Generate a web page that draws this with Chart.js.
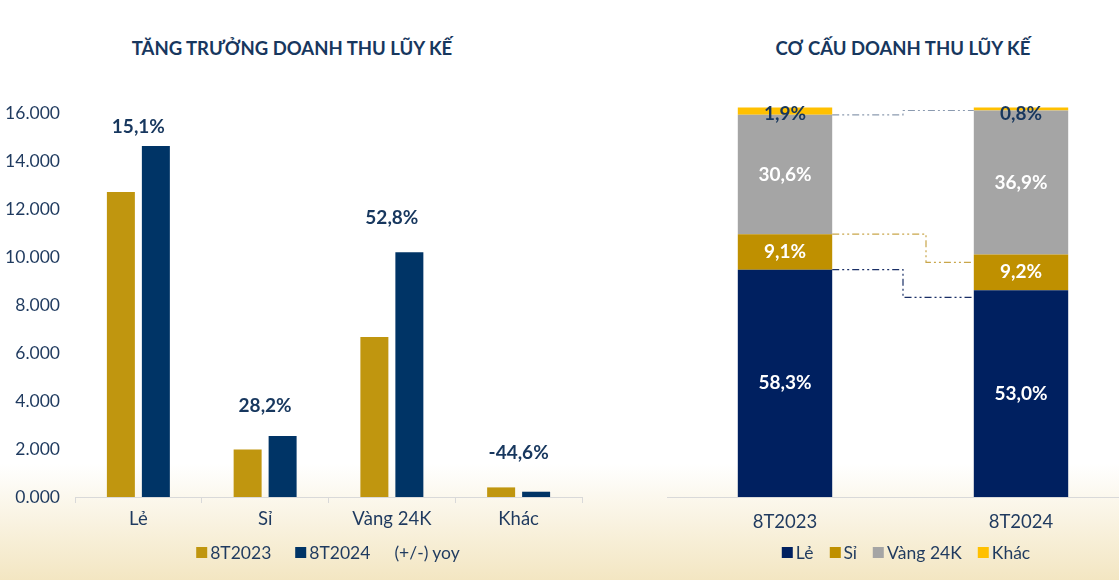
<!DOCTYPE html>
<html lang="vi">
<head>
    <meta charset="UTF-8">
    <title>Doanh thu lũy kế</title>
    <script src="https://cdn.jsdelivr.net/npm/chart.js"></script>
    <style>
        html, body {
            margin: 0;
            padding: 0;
            width: 1119px;
            height: 580px;
            overflow: hidden;
        }
        body {
            position: relative;
            font-family: Lato, "Open Sans", sans-serif;
            background: linear-gradient(to bottom, #ffffff 0%, #ffffff 80%, #f3e6c2 100%);
            color: #1f3a5f;
        }
        canvas {
            position: absolute;
            top: 0;
        }
        #growthChart { left: 0; }
        #mixChart { left: 600px; }
        .title {
            position: absolute;
            top: 37px;
            font-weight: bold;
            font-size: 18.5px;
            color: #17375e;
            white-space: nowrap;
            transform: translateX(-50%);
        }
        .legend {
            position: absolute;
            top: 542px;
            font-size: 17.5px;
            color: #1f3a5f;
            white-space: nowrap;
            transform: translateX(-50%);
            display: flex;
            align-items: center;
        }
        .legend span.box {
            display: inline-block;
            width: 11px;
            height: 11px;
            margin-right: 3px;
        }
        .legend span.item { display: flex; align-items: center; }
        #growthLegend span.item { margin-right: 24px; }
        #mixLegend span.item { margin-right: 16px; }
        .legend span.item:last-child { margin-right: 0 !important; }
    </style>
</head>
<body>
    <div class="title" style="left: 292px;">TĂNG TRƯỞNG DOANH THU LŨY KẾ</div>
    <div class="title" style="left: 903px;">CƠ CẤU DOANH THU LŨY KẾ</div>

    <canvas id="growthChart" width="600" height="580"></canvas>
    <canvas id="mixChart" width="560" height="580"></canvas>

    <div class="legend" id="growthLegend" style="left: 328px;"></div>
    <div class="legend" id="mixLegend" style="left: 906px;"></div>

    <script>
        // left chart: revenue by segment (tỷ đồng)
        const segments = ['Lẻ', 'Sỉ', 'Vàng 24K', 'Khác'];
        const rev2023 = [12710, 1980, 6670, 400];
        const rev2024 = [14630, 2540, 10200, 220];
        const yoyPct = ['15,1%', '28,2%', '52,8%', '-44,6%'];
        const revTicks = [0, 2000, 4000, 6000, 8000, 10000, 12000, 14000, 16000];

        // right chart: revenue mix (%)
        const periods = ['8T2023', '8T2024'];
        const mixLe = [58.3, 53.0];
        const mixSi = [9.1, 9.2];
        const mixVang = [30.6, 36.9];
        const mixKhac = [1.9, 0.8];

        const gold = '#c0960f';
        const navy = '#003466';
        const textColor = '#1f3a5f';
        const mixColors = ['#002060', '#bf9000', '#a5a5a5', '#ffc000'];

        // labels above each group, nudged per group like the source slide
        const yoyLift = [19, 30, 34, 35];

        const yoyLabels = {
            id: 'yoyLabels',
            afterDatasetsDraw(chart) {
                const ctx = chart.ctx;
                const xs = chart.scales.x;
                ctx.save();
                ctx.font = 'bold 19px Lato';
                ctx.fillStyle = '#17375e';
                ctx.textAlign = 'center';
                ctx.textBaseline = 'middle';
                yoyPct.forEach((txt, i) => {
                    const top = Math.min(chart.getDatasetMeta(0).data[i].y, chart.getDatasetMeta(1).data[i].y);
                    ctx.fillText(txt, xs.getPixelForValue(i), top - yoyLift[i]);
                });
                ctx.restore();
            }
        };

        new Chart(document.getElementById('growthChart'), {
            type: 'bar',
            data: {
                labels: segments,
                datasets: [
                    { label: '8T2023', data: rev2023, backgroundColor: gold },
                    { label: '8T2024', data: rev2024, backgroundColor: navy }
                ]
            },
            options: {
                responsive: false,
                animation: false,
                layout: { padding: { top: 113, right: 18, left: 0, bottom: 0 } },
                datasets: { bar: { categoryPercentage: 0.552, barPercentage: 0.8 } },
                plugins: { legend: { display: false }, tooltip: { enabled: false } },
                scales: {
                    x: {
                        afterFit: s => { s.height = 83; },
                        grid: { display: true, drawOnChartArea: false, offset: true, tickLength: 6, color: '#d9d9d9' },
                        border: { color: '#d9d9d9' },
                        ticks: { color: textColor, font: { family: 'Lato', size: 18.5 }, padding: 5 }
                    },
                    y: {
                        min: 0,
                        max: 16000,
                        afterFit: s => { s.width = 75; },
                        afterBuildTicks: s => { s.ticks = revTicks.map(v => ({ value: v })); },
                        grid: { display: false, drawTicks: false },
                        border: { display: false },
                        ticks: {
                            color: textColor,
                            font: { family: 'Lato', size: 17.5 },
                            padding: 15,
                            callback: v => (v / 1000).toFixed(3)
                        }
                    }
                }
            },
            plugins: [yoyLabels]
        });

        // dash-dot steps joining segment boundaries between the two columns
        const stepNudge = [7, 8, 0];
        const stepMid = [0, 23, 0];
        const stepColors = ['#1a2f66', '#c9a64a', '#8c9bb0'];

        const mixSteps = {
            id: 'mixSteps',
            afterDatasetsDraw(chart) {
                const ctx = chart.ctx;
                const ys = chart.scales.y;
                const b0 = chart.getDatasetMeta(0).data[0];
                const b1 = chart.getDatasetMeta(0).data[1];
                const x1 = b0.x + b0.width / 2;
                const x2 = b1.x - b1.width / 2;
                const cum0 = [mixLe[0], mixLe[0] + mixSi[0], mixLe[0] + mixSi[0] + mixVang[0]];
                const cum1 = [mixLe[1], mixLe[1] + mixSi[1], mixLe[1] + mixSi[1] + mixVang[1]];
                ctx.save();
                ctx.lineWidth = 1.2;
                ctx.setLineDash([7, 3, 2, 3, 2, 3]);
                for (let k = 0; k < 3; k++) {
                    const ya = ys.getPixelForValue(cum0[k]);
                    const yb = ys.getPixelForValue(cum1[k]) + stepNudge[k];
                    const xm = (x1 + x2) / 2 + stepMid[k];
                    ctx.strokeStyle = stepColors[k];
                    ctx.beginPath();
                    ctx.moveTo(x1, ya);
                    ctx.lineTo(xm, ya);
                    ctx.lineTo(xm, yb);
                    ctx.lineTo(x2, yb);
                    ctx.stroke();
                }
                ctx.restore();
            }
        };

        const mixLabels = {
            id: 'mixLabels',
            afterDatasetsDraw(chart) {
                const ctx = chart.ctx;
                ctx.save();
                ctx.font = 'bold 19px Lato';
                ctx.textAlign = 'center';
                ctx.textBaseline = 'middle';
                chart.data.datasets.forEach((ds, d) => {
                    chart.getDatasetMeta(d).data.forEach((bar, i) => {
                        const txt = ds.data[i].toFixed(1).replace('.', ',') + '%';
                        const isTop = d === chart.data.datasets.length - 1;
                        ctx.fillStyle = isTop ? '#17375e' : '#ffffff';
                        const y = isTop ? bar.y + 6 : (bar.y + bar.base) / 2;
                        ctx.fillText(txt, bar.x, y);
                    });
                });
                ctx.restore();
            }
        };

        new Chart(document.getElementById('mixChart'), {
            type: 'bar',
            data: {
                labels: periods,
                datasets: [
                    { label: 'Lẻ', data: mixLe, backgroundColor: mixColors[0] },
                    { label: 'Sỉ', data: mixSi, backgroundColor: mixColors[1] },
                    { label: 'Vàng 24K', data: mixVang, backgroundColor: mixColors[2] },
                    { label: 'Khác', data: mixKhac, backgroundColor: mixColors[3] }
                ]
            },
            options: {
                responsive: false,
                animation: false,
                layout: { padding: { top: 107, right: 21, left: 67, bottom: 0 } },
                datasets: { bar: { categoryPercentage: 1, barPercentage: 0.4 } },
                plugins: { legend: { display: false }, tooltip: { enabled: false } },
                scales: {
                    x: {
                        stacked: true,
                        afterFit: s => { s.height = 83; },
                        grid: { display: false },
                        border: { display: true, color: '#d9d9d9' },
                        ticks: { color: textColor, font: { family: 'Lato', size: 18.5 }, padding: 6 }
                    },
                    y: { stacked: true, min: 0, max: 100, display: false }
                }
            },
            plugins: [mixSteps, mixLabels]
        });

        // html legends
        function buildLegend(el, items) {
            el.innerHTML = items.map(it =>
                '<span class="item">' + (it.color ? '<span class="box" style="background:' + it.color + '"></span>' : '') + it.text + '</span>'
            ).join('');
        }
        buildLegend(document.getElementById('growthLegend'), [
            { text: '8T2023', color: gold },
            { text: '8T2024', color: navy },
            { text: '(+/-) yoy', color: null }
        ]);
        buildLegend(document.getElementById('mixLegend'), [
            { text: 'Lẻ', color: mixColors[0] },
            { text: 'Sỉ', color: mixColors[1] },
            { text: 'Vàng 24K', color: mixColors[2] },
            { text: 'Khác', color: mixColors[3] }
        ]);
    </script>
</body>
</html>
